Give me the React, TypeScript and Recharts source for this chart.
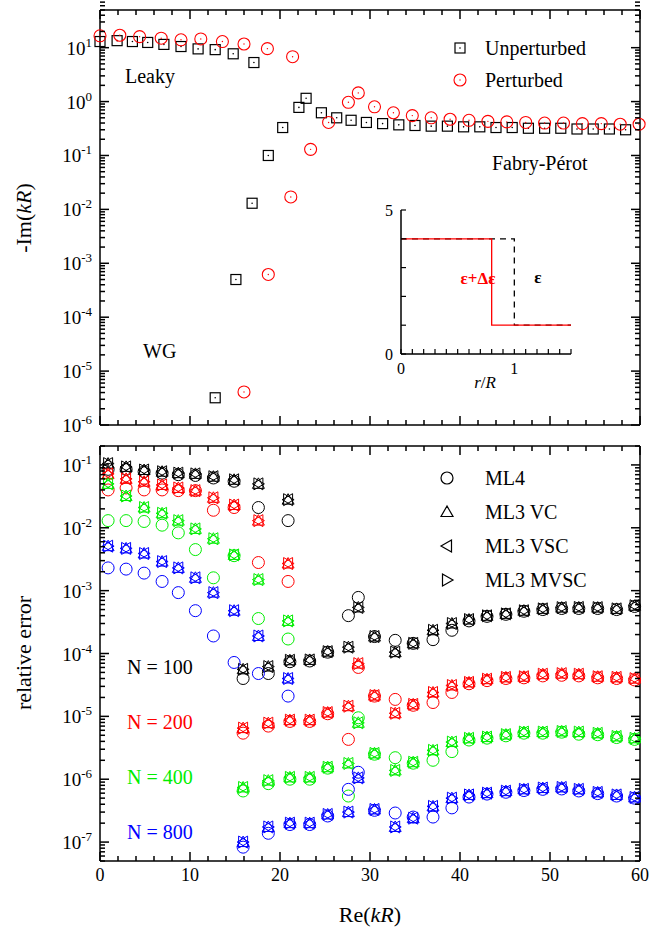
import React from 'react';
import { ScatterChart, Scatter, LineChart, Line, XAxis, YAxis } from 'recharts';

const FONT = '"Liberation Serif", "DejaVu Serif", serif';

// ---- top panel: -Im(kR) vs Re(kR)
const unpertX = [0, 1.9, 3.6, 5.3, 7.1, 9, 10.9, 12.8, 14.8, 17.1, 12.8, 15.1, 16.9, 18.7, 20.3, 22.1, 22.9, 24.6, 26.3, 27.9, 29.6, 31.4, 33.2, 35, 36.8, 38.6, 40.4, 42.2, 44, 45.8, 47.6, 49.4, 51.2, 53, 54.8, 56.6, 58.4];
const unpertY = [13, 13.5, 13, 12.5, 11.5, 10.5, 9.5, 9.2, 7.7, 5.3, 3.2e-6, 5e-4, 0.013, 0.1, 0.33, 0.78, 1.15, 0.62, 0.5, 0.45, 0.41, 0.39, 0.37, 0.36, 0.35, 0.35, 0.34, 0.34, 0.33, 0.33, 0.32, 0.32, 0.32, 0.31, 0.31, 0.31, 0.3];
const pertX = [0, 2.2, 4.4, 6.8, 9, 11.2, 13.6, 16, 18.6, 21.4, 16, 18.7, 21.2, 23.4, 25.4, 27.6, 28.7, 30.5, 32.6, 34.7, 36.8, 38.9, 41, 43.1, 45.2, 47.3, 49.4, 51.5, 53.6, 55.7, 57.8, 59.9];
const pertY = [16.6, 17, 16, 15, 14, 14.5, 13, 11.7, 9.6, 6.8, 4.1e-6, 6.2e-4, 0.017, 0.13, 0.41, 0.97, 1.45, 0.8, 0.62, 0.55, 0.5, 0.47, 0.45, 0.43, 0.42, 0.41, 0.4, 0.4, 0.39, 0.39, 0.38, 0.38];

// ---- inset: permittivity profile
const insetR = [0, 0.8, 0.8, 1, 1, 1.5];
const insetPert = [4, 4, 1, 1, 1, 1];
const insetUnpert = [4, 4, 4, 4, 1, 1];

// ---- bottom panel: relative error
const leakyX = [0.9, 2.9, 4.9, 6.9, 8.7, 10.6, 12.6, 14.9, 17.6, 20.9];
const fpX = [15.9, 18.7, 21.1, 23.3, 25.3, 27.6, 28.7, 30.5, 32.8, 34.8, 37, 39.1, 41, 43, 45.1, 47.1, 49.2, 51.3, 53.2, 55.3, 57.4, 59.4];

const ml3Leaky: Record<string, number[]> = {
  '100': [0.105, 0.093, 0.083, 0.078, 0.074, 0.072, 0.065, 0.058, 0.05, 0.028],
  '200': [0.072, 0.06, 0.054, 0.048, 0.043, 0.039, 0.03, 0.023, 0.013, 0.0027],
  '400': [0.05, 0.032, 0.021, 0.017, 0.013, 0.0096, 0.0067, 0.0037, 0.0015, 0.00033],
  '800': [0.0051, 0.0047, 0.0039, 0.0029, 0.0023, 0.0016, 0.00093, 0.00048, 0.00019, 0.00004],
};
const ml4Leaky: Record<string, number[]> = {
  '100': [0.085, 0.085, 0.078, 0.074, 0.07, 0.068, 0.062, 0.055, 0.021, 0.013],
  '200': [0.04, 0.043, 0.04, 0.04, 0.039, 0.039, 0.019, 0.021, 0.0028, 0.0014],
  '400': [0.013, 0.013, 0.0126, 0.011, 0.0083, 0.0045, 0.0016, 0.0036, 0.00036, 0.00017],
  '800': [0.0023, 0.0022, 0.0019, 0.0014, 0.00093, 0.00048, 0.00019, 7.2e-5, 4.8e-5, 2.1e-5],
};
const ml3Fp: Record<string, number[]> = {
  '100': [5.6e-5, 6.2e-5, 7.8e-5, 7.9e-5, 1.07e-4, 1.26e-4, 5.4e-4, 1.86e-4, 1.05e-4, 1.45e-4, 2.34e-4, 3.0e-4, 3.47e-4, 3.98e-4, 4.27e-4, 4.79e-4, 5.13e-4, 5.37e-4, 5.4e-4, 5.37e-4, 5.13e-4, 5.75e-4],
  '200': [6.5e-6, 7.8e-6, 8.7e-6, 8.7e-6, 1.15e-5, 1.45e-5, 6.9e-5, 2.14e-5, 1.12e-5, 1.55e-5, 2.4e-5, 3.1e-5, 3.47e-5, 3.9e-5, 4.17e-5, 4.27e-5, 4.68e-5, 4.79e-5, 4.68e-5, 4.27e-5, 4.17e-5, 3.98e-5],
  '400': [7.4e-7, 9.5e-7, 1.07e-6, 1.07e-6, 1.55e-6, 1.78e-6, 7.9e-6, 2.57e-6, 1.38e-6, 1.86e-6, 2.88e-6, 3.9e-6, 4.47e-6, 4.68e-6, 5.13e-6, 5.62e-6, 5.62e-6, 5.75e-6, 5.62e-6, 5.37e-6, 4.79e-6, 4.47e-6],
  '800': [1.0e-7, 1.74e-7, 2.0e-7, 2.0e-7, 2.75e-7, 3.0e-7, 1.05e-6, 3.3e-7, 1.74e-7, 2.4e-7, 3.7e-7, 5.0e-7, 5.62e-7, 6.0e-7, 6.46e-7, 6.9e-7, 7.24e-7, 7.4e-7, 6.9e-7, 6.17e-7, 5.62e-7, 5.13e-7],
};
const ml4Fp: Record<string, number[]> = {
  '100': [4.0e-5, 4.8e-5, 7.4e-5, 7.6e-5, 1.05e-4, 4.0e-4, 7.8e-4, 1.86e-4, 1.62e-4, 1.45e-4, 1.66e-4, 2.34e-4, 3.3e-4, 3.9e-4, 4.2e-4, 4.7e-4, 5.0e-4, 5.2e-4, 5.2e-4, 5.2e-4, 5.0e-4, 5.6e-4],
  '200': [5.4e-6, 7.0e-6, 8.3e-6, 8.3e-6, 1.1e-5, 4.3e-6, 6.0e-5, 2.1e-5, 1.86e-5, 1.5e-5, 1.66e-5, 2.4e-5, 3.3e-5, 3.7e-5, 4.0e-5, 4.1e-5, 4.4e-5, 4.5e-5, 4.4e-5, 4.1e-5, 4.0e-5, 3.8e-5],
  '400': [6.5e-7, 8.5e-7, 1.0e-6, 1.0e-6, 1.5e-6, 5.4e-7, 9.5e-6, 2.5e-6, 2.2e-6, 1.8e-6, 2.0e-6, 2.75e-6, 4.2e-6, 4.5e-6, 4.9e-6, 5.4e-6, 5.4e-6, 5.6e-6, 5.2e-6, 5.1e-6, 4.6e-6, 4.3e-6],
  '800': [8.3e-8, 1.38e-7, 1.9e-7, 1.9e-7, 2.6e-7, 6.9e-7, 1.29e-6, 3.2e-7, 2.9e-7, 2.5e-7, 2.5e-7, 3.5e-7, 5.2e-7, 5.8e-7, 6.2e-7, 6.6e-7, 6.9e-7, 7.0e-7, 6.5e-7, 5.9e-7, 5.4e-7, 5.0e-7],
};
const nValues = ['100', '200', '400', '800'];
const nColors: Record<string, string> = { '100': '#000000', '200': '#ff0000', '400': '#00ee00', '800': '#0000ff' };
const methods = ['ML4', 'ML3 VC', 'ML3 VSC', 'ML3 MVSC'];

const xTicks = [0, 2, 4, 6, 8, 10, 12, 14, 16, 18, 20, 22, 24, 26, 28, 30, 32, 34, 36, 38, 40, 42, 44, 46, 48, 50, 52, 54, 56, 58, 60];
const insetTicks = [0, 0.1, 0.2, 0.3, 0.4, 0.5, 0.6, 0.7, 0.8, 0.9, 1, 1.1, 1.2, 1.3, 1.4, 1.5];

function logTicks(lo: number, hi: number) {
  const out: number[] = [];
  for (let e = lo; e <= hi; e++) {
    for (let m = 1; m < 10; m++) out.push(m * Math.pow(10, e));
  }
  return out;
}
const isDecade = (v: number) => Math.abs(Math.log10(v) - Math.round(Math.log10(v))) < 1e-6;

function LogTick(props: any) {
  const { x, y, payload, side } = props;
  const major = isDecade(payload.value);
  const len = major ? 9 : 5;
  const dir = side === 'left' ? 1 : -1;
  const e = Math.round(Math.log10(payload.value));
  return (
    <g>
      <line x1={x} x2={x + dir * len} y1={y} y2={y} stroke="#000" strokeWidth={1.5} />
      {side === 'left' && major && (
        <text x={x - 8} y={y + 7} textAnchor="end" style={{ fontFamily: FONT }} fontSize={19} fill="#000">
          10<tspan dy={-8} fontSize={13}>{e}</tspan>
        </text>
      )}
    </g>
  );
}

function XTick(props: any) {
  const { x, y, payload, side, labels } = props;
  const major = payload.value % 10 === 0;
  const len = major ? 9 : 5;
  const dir = side === 'bottom' ? -1 : 1;
  return (
    <g>
      <line x1={x} x2={x} y1={y} y2={y + dir * len} stroke="#000" strokeWidth={1.5} />
      {labels && major && (
        <text x={x} y={y + 20} textAnchor="middle" style={{ fontFamily: FONT }} fontSize={18} fill="#000">{payload.value}</text>
      )}
    </g>
  );
}

const SquareDot = (p: any) => (
  <g>
    <rect x={p.cx - 5} y={p.cy - 5} width={10} height={10} fill="none" stroke="#000" strokeWidth={1.2} />
    <circle cx={p.cx} cy={p.cy} r={0.8} fill="#000" />
  </g>
);
const CircleDot = (p: any) => (
  <g>
    <circle cx={p.cx} cy={p.cy} r={6} fill="none" stroke="#ff0000" strokeWidth={1.1} />
    <circle cx={p.cx} cy={p.cy} r={0.7} fill="#ff0000" />
  </g>
);

function marker(method: string, color: string, legend = false) {
  return (p: any) => {
    const { cx, cy } = p;
    const s = 6;
    const sw = legend ? 1.2 : 1;
    if (method === 'ML4') return <circle cx={cx} cy={cy} r={6} fill="none" stroke={color} strokeWidth={sw} />;
    let pts = '';
    if (method === 'ML3 VC') pts = `${cx},${cy - s} ${cx - s},${cy + s * 0.75} ${cx + s},${cy + s * 0.75}`;
    if (method === 'ML3 VSC') pts = `${cx - s},${cy} ${cx + s * 0.75},${cy - s} ${cx + s * 0.75},${cy + s}`;
    if (method === 'ML3 MVSC') pts = `${cx + s},${cy} ${cx - s * 0.75},${cy - s} ${cx - s * 0.75},${cy + s}`;
    return <polygon points={pts} fill="none" stroke={color} strokeWidth={sw} />;
  };
}

const topData = {
  unpert: unpertX.map((x, i) => ({ x, y: unpertY[i] })),
  pert: pertX.map((x, i) => ({ x, y: pertY[i] })),
};
const insetData = insetR.map((r, i) => ({ r, pert: insetPert[i], unpert: insetUnpert[i] }));

function bottomSeries(n: string, method: string) {
  const leaky = method === 'ML4' ? ml4Leaky[n] : ml3Leaky[n];
  const fp = method === 'ML4' ? ml4Fp[n] : ml3Fp[n];
  return [...leakyX.map((x, i) => ({ x, y: leaky[i] })), ...fpX.map((x, i) => ({ x, y: fp[i] }))];
}

const T = ({ style, ...props }: any) => <text fill="#000" style={{ fontFamily: FONT, ...style }} {...props} />;

const topDomain: [number, number] = [1e-6, 50];
const botDomain: [number, number] = [5e-8, 0.2];
const AX = { stroke: '#000', strokeWidth: 1.5 };

export default function App() {
  return (
    <div style={{ position: 'absolute', left: 0, top: 0, width: 652, height: 933, background: '#fff' }}>
      <div style={{ position: 'absolute', left: 0, top: 0 }}>
        <ScatterChart width={652} height={445} margin={{ top: 9, right: 11, bottom: 19, left: 0 }}>
          <XAxis xAxisId="b" type="number" dataKey="x" domain={[0, 60]} ticks={xTicks} interval={0} height={1} tickSize={0} tickMargin={0} tickLine={false} axisLine={AX} tick={<XTick side="bottom" />} />
          <XAxis xAxisId="t" orientation="top" type="number" dataKey="x" domain={[0, 60]} ticks={xTicks} interval={0} height={1} tickSize={0} tickMargin={0} tickLine={false} axisLine={AX} tick={<XTick side="top" />} />
          <YAxis yAxisId="l" type="number" dataKey="y" scale="log" domain={topDomain} allowDataOverflow ticks={logTicks(-6, 1)} interval={0} width={100} tickSize={0} tickMargin={0} tickLine={false} axisLine={AX} tick={<LogTick side="left" />} />
          <YAxis yAxisId="r" orientation="right" type="number" dataKey="y" scale="log" domain={topDomain} allowDataOverflow ticks={logTicks(-6, 1)} interval={0} width={1} tickSize={0} tickMargin={0} tickLine={false} axisLine={AX} tick={<LogTick side="right" />} />
          <Scatter xAxisId="b" yAxisId="l" data={topData.unpert} shape={SquareDot} isAnimationActive={false} />
          <Scatter xAxisId="t" yAxisId="r" data={topData.pert} shape={CircleDot} isAnimationActive={false} />
        </ScatterChart>
      </div>
      <div style={{ position: 'absolute', left: 0, top: 436 }}>
        <ScatterChart width={652} height={460} margin={{ top: 9, right: 11, bottom: 34, left: 0 }}>
          <XAxis xAxisId="b" type="number" dataKey="x" domain={[0, 60]} ticks={xTicks} interval={0} height={1} tickSize={0} tickMargin={0} tickLine={false} axisLine={AX} tick={<XTick side="bottom" labels />} />
          <XAxis xAxisId="t" orientation="top" type="number" dataKey="x" domain={[0, 60]} ticks={xTicks} interval={0} height={1} tickSize={0} tickMargin={0} tickLine={false} axisLine={AX} tick={<XTick side="top" />} />
          <YAxis yAxisId="l" type="number" dataKey="y" scale="log" domain={botDomain} allowDataOverflow ticks={logTicks(-8, -1).filter((v) => v >= botDomain[0] && v <= botDomain[1])} interval={0} width={100} tickSize={0} tickMargin={0} tickLine={false} axisLine={AX} tick={<LogTick side="left" />} />
          <YAxis yAxisId="r" orientation="right" type="number" dataKey="y" scale="log" domain={botDomain} allowDataOverflow ticks={logTicks(-8, -1).filter((v) => v >= botDomain[0] && v <= botDomain[1])} interval={0} width={1} tickSize={0} tickMargin={0} tickLine={false} axisLine={AX} tick={<LogTick side="right" />} />
          {nValues.map((n) =>
            methods.map((m, k) => (
              <Scatter key={n + m} xAxisId={k % 2 ? 'b' : 't'} yAxisId={k % 2 ? 'l' : 'r'} data={bottomSeries(n, m)} shape={marker(m, nColors[n])} isAnimationActive={false} />
            ))
          )}
        </ScatterChart>
      </div>
      {/* inset */}
      <div style={{ position: 'absolute', left: 370, top: 200 }}>
        <LineChart width={210} height={190} data={insetData} margin={{ top: 10, right: 9, bottom: 35, left: 0 }}>
          <XAxis dataKey="r" type="number" domain={[0, 1.5]} ticks={insetTicks} interval={0} height={1} tickSize={0} tickMargin={0} tickLine={false} axisLine={AX}
            tick={(p: any) => (
              <g>
                <line x1={p.x} x2={p.x} y1={p.y} y2={p.y - 5} stroke="#000" strokeWidth={1.2} />
                {(p.payload.value === 0 || p.payload.value === 1) && <text x={p.x} y={p.y + 20} textAnchor="middle" style={{ fontFamily: FONT }} fontSize={16}>{p.payload.value}</text>}
              </g>
            )} />
          <YAxis type="number" domain={[0, 5]} ticks={[0, 1, 2, 3, 4, 5]} interval={0} width={31} tickSize={0} tickMargin={0} tickLine={false} axisLine={AX}
            tick={(p: any) => (
              <g>
                <line x1={p.x} x2={p.x + 5} y1={p.y} y2={p.y} stroke="#000" strokeWidth={1.2} />
                {(p.payload.value === 0 || p.payload.value === 5) && <text x={p.x - 8} y={p.y + 6} textAnchor="end" style={{ fontFamily: FONT }} fontSize={16}>{p.payload.value}</text>}
              </g>
            )} />
          <Line dataKey="unpert" type="linear" stroke="#000" strokeWidth={1.3} strokeDasharray="6 5" dot={false} isAnimationActive={false} />
          <Line dataKey="pert" type="linear" stroke="#ff0000" strokeWidth={1.3} dot={false} isAnimationActive={false} />
        </LineChart>
      </div>
      <svg width={652} height={933} style={{ position: 'absolute', left: 0, top: 0, pointerEvents: 'none' }}>
        <T x={125} y={83} fontSize={20}>Leaky</T>
        <T x={492} y={170} fontSize={20}>Fabry-Pérot</T>
        <T x={143} y={358} fontSize={20}>WG</T>
        <T x={478} y={284} fontSize={17} textAnchor="middle" fill="#ff0000" fontWeight="bold">ε+Δε</T>
        <T x={538} y={283} fontSize={17} textAnchor="middle" fontWeight="bold">ε</T>
        <T x={485} y={388} fontSize={17} textAnchor="middle"><tspan fontStyle="italic">r</tspan>/<tspan fontStyle="italic">R</tspan></T>
        <SquareDot cx={460} cy={48} />
        <T x={485} y={55} fontSize={20}>Unperturbed</T>
        <CircleDot cx={460} cy={80} />
        <T x={485} y={87} fontSize={20}>Perturbed</T>
        {methods.map((m, i) => (
          <g key={m}>
            {marker(m, '#000', true)({ cx: 447, cy: 478 + i * 34 })}
            <T x={485} y={485 + i * 34} fontSize={20}>{m}</T>
          </g>
        ))}
        {nValues.map((n, i) => (
          <T key={n} x={127} y={674 + i * 55} fontSize={20} fill={nColors[n]}>N = {n}</T>
        ))}
        <T transform="translate(31,218) rotate(-90)" fontSize={22} textAnchor="middle">-Im(<tspan fontStyle="italic">kR</tspan>)</T>
        <T transform="translate(31,653) rotate(-90)" fontSize={22} textAnchor="middle">relative error</T>
        <T x={370} y={922} fontSize={22} textAnchor="middle">Re(<tspan fontStyle="italic">kR</tspan>)</T>
      </svg>
    </div>
  );
}
